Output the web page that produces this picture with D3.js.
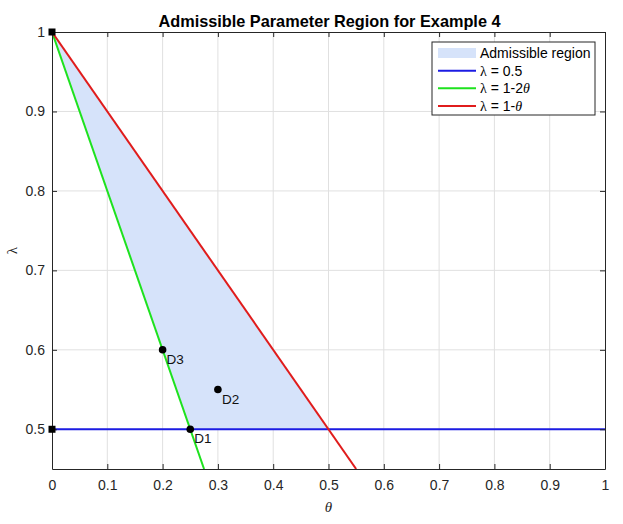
<!DOCTYPE html>
<html>
<head>
  <meta charset="utf-8">
  <title>admissible-region</title>
  <style>
    * { margin: 0; padding: 0; }
    body { background: #fff; }
    svg { display: block; font-family: "Liberation Sans", Arial, sans-serif; }
    .tick text { fill: #262626; }
  </style>
</head>
<body>
  <svg id="svg"></svg>
  <script src="https://cdnjs.cloudflare.com/ajax/libs/d3/7.8.5/d3.min.js"></script>
  <script>
    // data
    const xTicks = [0, 0.1, 0.2, 0.3, 0.4, 0.5, 0.6, 0.7, 0.8, 0.9, 1];
    const yTicks = [0.5, 0.6, 0.7, 0.8, 0.9, 1];

    const regionTheta = [0, 0.25, 0.5];
    const regionLambda = [1, 0.5, 0.5];

    const lineNames = ['λ = 0.5', 'λ = 1-2θ', 'λ = 1-θ'];
    const lineTheta = [[0, 1], [0, 0.275], [0, 0.55]];
    const lineLambda = [[0.5, 0.5], [1, 0.45], [1, 0.45]];
    const lineColors = ['#1c1ce3', '#1ee21e', '#e01c1c'];

    const pointNames = ['D1', 'D2', 'D3'];
    const pointTheta = [0.25, 0.3, 0.2];
    const pointLambda = [0.5, 0.55, 0.6];

    const cornerTheta = [0, 0];
    const cornerLambda = [1, 0.5];

    const dim = {
      width: 623,
      height: 524,
      margin: { top: 32, right: 18, bottom: 55, left: 52 }
    };
    const innerW = dim.width - dim.margin.left - dim.margin.right;
    const innerH = dim.height - dim.margin.top - dim.margin.bottom;

    const svg = d3.select('#svg').attr('width', dim.width).attr('height', dim.height);

    const xScale = d3.scaleLinear().domain([0, 1]).range([0, innerW]);
    const yScale = d3.scaleLinear().domain([0.45, 1]).range([innerH, 0]);

    svg.append('defs').append('clipPath').attr('id', 'clip')
      .append('rect').attr('width', innerW).attr('height', innerH);

    const g = svg.append('g').attr('transform', `translate(${dim.margin.left}, ${dim.margin.top})`);

    // grid
    g.append('g').selectAll('line').data(xTicks.slice(1, -1)).enter().append('line')
      .attr('x1', d => xScale(d)).attr('x2', d => xScale(d))
      .attr('y1', 0).attr('y2', innerH)
      .attr('stroke', '#e0e0e0').attr('stroke-width', 1);
    g.append('g').selectAll('line').data(yTicks.slice(0, -1)).enter().append('line')
      .attr('y1', d => yScale(d)).attr('y2', d => yScale(d))
      .attr('x1', 0).attr('x2', innerW)
      .attr('stroke', '#e0e0e0').attr('stroke-width', 1);

    const plot = g.append('g').attr('clip-path', 'url(#clip)');

    // admissible region
    plot.append('polygon')
      .attr('points', regionTheta.map((t, i) => [xScale(t), yScale(regionLambda[i])].join(',')).join(' '))
      .attr('fill', '#d6e3fa');

    // lines
    const line = d3.line().x(d => xScale(d[0])).y(d => yScale(d[1]));
    lineNames.forEach((name, i) => {
      plot.append('path')
        .datum(lineTheta[i].map((t, j) => [t, lineLambda[i][j]]))
        .attr('d', line)
        .attr('fill', 'none')
        .attr('stroke', lineColors[i])
        .attr('stroke-width', 2);
    });

    // axes
    const xAxis = d3.axisBottom(xScale).tickValues(xTicks).tickFormat(d3.format('~g'))
      .tickSizeInner(-5).tickSizeOuter(0).tickPadding(11);
    const yAxis = d3.axisLeft(yScale).tickValues(yTicks).tickFormat(d3.format('~g'))
      .tickSizeInner(-5).tickSizeOuter(0).tickPadding(7);
    const xTop = d3.axisTop(xScale).tickValues(xTicks).tickFormat('')
      .tickSizeInner(-5).tickSizeOuter(0);
    const yRight = d3.axisRight(yScale).tickValues(yTicks).tickFormat('')
      .tickSizeInner(-5).tickSizeOuter(0);

    const styleAxis = sel => {
      sel.selectAll('path, line').attr('stroke', '#262626');
      sel.selectAll('text').attr('font-size', 14).attr('font-family', '"Liberation Sans", Arial, sans-serif');
    };
    g.append('g').attr('transform', `translate(0, ${innerH})`).call(xAxis).call(styleAxis);
    g.append('g').call(yAxis).call(styleAxis);
    g.append('g').call(xTop).call(styleAxis);
    g.append('g').attr('transform', `translate(${innerW}, 0)`).call(yRight).call(styleAxis);

    // markers on top of axes
    const marks = g.append('g');
    marks.selectAll('rect').data(cornerTheta).enter().append('rect')
      .attr('x', (d, i) => xScale(d) - 3.5)
      .attr('y', (d, i) => yScale(cornerLambda[i]) - 3.5)
      .attr('width', 7).attr('height', 7)
      .attr('fill', '#000');
    marks.selectAll('circle').data(pointTheta).enter().append('circle')
      .attr('cx', d => xScale(d))
      .attr('cy', (d, i) => yScale(pointLambda[i]))
      .attr('r', 3.8)
      .attr('fill', '#000');
    marks.selectAll('text').data(pointNames).enter().append('text')
      .attr('x', (d, i) => xScale(pointTheta[i]) + 4)
      .attr('y', (d, i) => yScale(pointLambda[i]) + 14)
      .attr('font-size', 13.5)
      .attr('fill', '#111')
      .text(d => d);

    // titles
    svg.append('text')
      .attr('x', 329.5).attr('y', 27)
      .attr('text-anchor', 'middle')
      .attr('font-size', 16.3).attr('font-weight', 'bold')
      .attr('fill', '#000')
      .text('Admissible Parameter Region for Example 4');

    svg.append('text')
      .attr('x', dim.margin.left + innerW / 2).attr('y', 512)
      .attr('text-anchor', 'middle')
      .attr('font-family', '"Liberation Serif", serif').attr('font-style', 'italic')
      .attr('font-size', 15).attr('fill', '#262626')
      .text('θ');

    svg.append('text')
      .attr('transform', `translate(17, ${dim.margin.top + innerH / 2}) rotate(-90)`)
      .attr('text-anchor', 'middle')
      .attr('font-family', '"Liberation Serif", serif')
      .attr('font-size', 15).attr('fill', '#262626')
      .text('λ');

    // legend
    const legend = svg.append('g').attr('transform', 'translate(432, 42)');
    legend.append('rect')
      .attr('width', 163).attr('height', 73)
      .attr('fill', '#fff').attr('stroke', '#262626').attr('stroke-width', 1);
    const rowY = [11, 28.7, 46.3, 64];
    legend.append('rect')
      .attr('x', 6).attr('y', rowY[0] - 5).attr('width', 38).attr('height', 10)
      .attr('fill', '#d6e3fa');
    legend.append('text')
      .attr('x', 48).attr('y', rowY[0] + 5)
      .attr('font-size', 14).attr('fill', '#000')
      .text('Admissible region');
    lineNames.forEach((name, i) => {
      const y = rowY[i + 1];
      legend.append('line')
        .attr('x1', 6).attr('x2', 44).attr('y1', y).attr('y2', y)
        .attr('stroke', lineColors[i]).attr('stroke-width', 2);
      const t = legend.append('text')
        .attr('x', 48).attr('y', y + 5)
        .attr('font-size', 14).attr('fill', '#000');
      // split name so greek letters use serif
      name.split(/([λθ])/).filter(s => s.length).forEach(part => {
        const span = t.append('tspan').text(part);
        if (part === 'λ') span.attr('font-family', '"Liberation Serif", serif');
        if (part === 'θ') span.attr('font-family', '"Liberation Serif", serif').attr('font-style', 'italic');
      });
    });
  </script>
</body>
</html>
